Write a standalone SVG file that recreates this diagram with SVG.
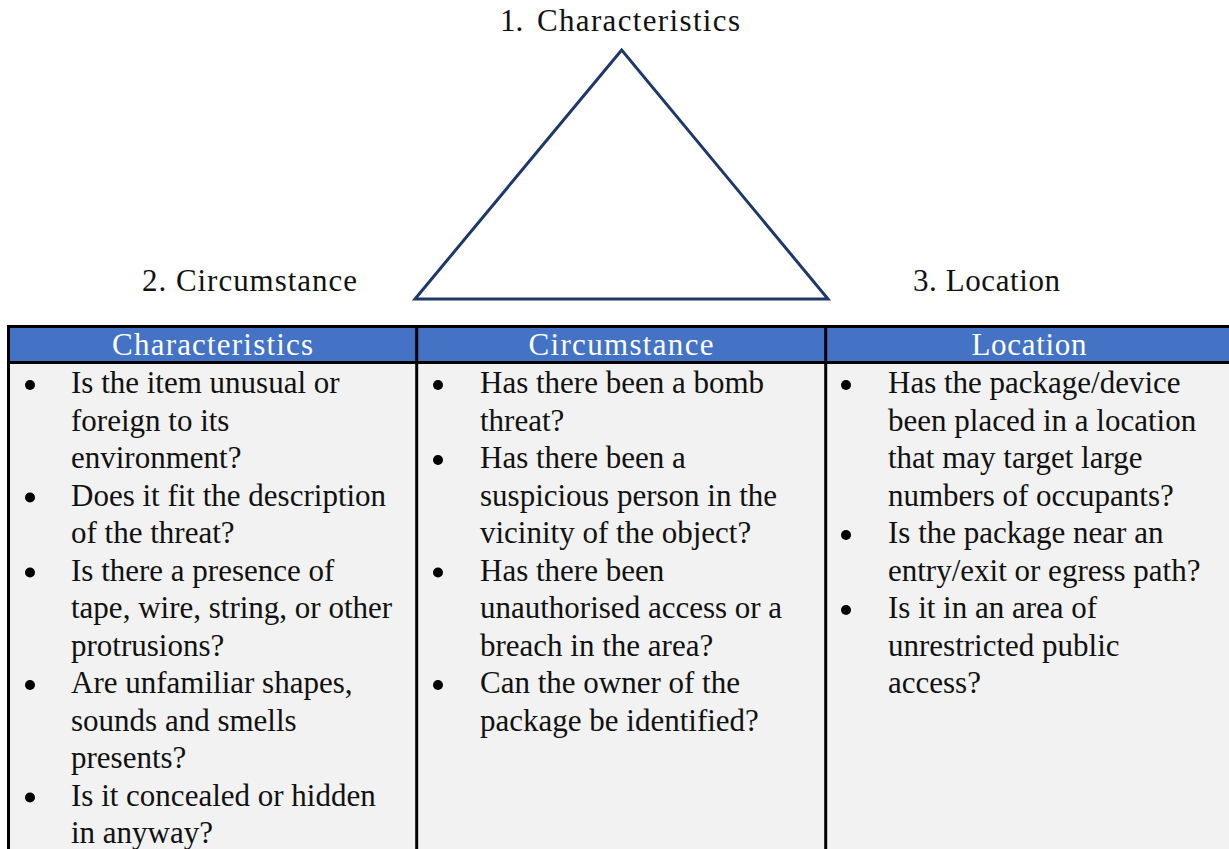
<svg xmlns="http://www.w3.org/2000/svg" width="1229" height="849" viewBox="0 0 1229 849">
<style>
text{font-family:"Liberation Serif","Times New Roman",serif;font-size:31px;fill:#111}
.hd{fill:#ffffff;text-anchor:middle}
.ln{stroke:#000;stroke-width:3;fill:none}
.bl{fill:#000}
</style>
<rect x="0" y="0" width="1229" height="849" fill="#ffffff"/>
<g id="triangle">
<polygon points="621.7,50 415,299 828,299" fill="none" stroke="#1F3864" stroke-width="3" stroke-linejoin="miter"/>
</g>
<g id="label-characteristics">
<text x="500" y="31">1.</text>
<text x="537" y="31" textLength="203" lengthAdjust="spacing">Characteristics</text>
</g>
<g id="label-circumstance">
<text x="142" y="291" textLength="215" lengthAdjust="spacing">2. Circumstance</text>
</g>
<g id="label-location">
<text x="913" y="291" textLength="147" lengthAdjust="spacing">3. Location</text>
</g>
<g id="connectors"></g>
<g id="table">
<rect x="8" y="326" width="1225" height="36" fill="#4472C4"/>
<rect x="8" y="362" width="1225" height="490" fill="#F2F2F2"/>
<line class="ln" x1="7" y1="326.5" x2="1232" y2="326.5"/>
<line class="ln" x1="7" y1="362.5" x2="1232" y2="362.5"/>
<line class="ln" x1="8.5" y1="325" x2="8.5" y2="852"/>
<line class="ln" x1="416.7" y1="325" x2="416.7" y2="852"/>
<line class="ln" x1="825.7" y1="325" x2="825.7" y2="852"/>
<g id="col-characteristics">
<text class="hd" x="212.6" y="355" textLength="201" lengthAdjust="spacing">Characteristics</text>
<circle class="bl" cx="30" cy="385" r="5"/>
<circle class="bl" cx="30" cy="497.5" r="5"/>
<circle class="bl" cx="30" cy="572.5" r="5"/>
<circle class="bl" cx="30" cy="685" r="5"/>
<circle class="bl" cx="30" cy="797.5" r="5"/>
<text x="71" y="393">Is the item unusual or</text>
<text x="71" y="430.5">foreign to its</text>
<text x="71" y="468">environment?</text>
<text x="71" y="505.5">Does it fit the description</text>
<text x="71" y="543">of the threat?</text>
<text x="71" y="580.5">Is there a presence of</text>
<text x="71" y="618">tape, wire, string, or other</text>
<text x="71" y="655.5">protrusions?</text>
<text x="71" y="693">Are unfamiliar shapes,</text>
<text x="71" y="730.5">sounds and smells</text>
<text x="71" y="768">presents?</text>
<text x="71" y="805.5">Is it concealed or hidden</text>
<text x="71" y="843">in anyway?</text>
</g>
<g id="col-circumstance">
<text class="hd" x="621" y="355" textLength="185" lengthAdjust="spacing">Circumstance</text>
<circle class="bl" cx="438" cy="385" r="5"/>
<circle class="bl" cx="438" cy="460" r="5"/>
<circle class="bl" cx="438" cy="572.5" r="5"/>
<circle class="bl" cx="438" cy="685" r="5"/>
<text x="480" y="393">Has there been a bomb</text>
<text x="480" y="430.5">threat?</text>
<text x="480" y="468">Has there been a</text>
<text x="480" y="505.5">suspicious person in the</text>
<text x="480" y="543">vicinity of the object?</text>
<text x="480" y="580.5">Has there been</text>
<text x="480" y="618">unauthorised access or a</text>
<text x="480" y="655.5">breach in the area?</text>
<text x="480" y="693">Can the owner of the</text>
<text x="480" y="730.5">package be identified?</text>
</g>
<g id="col-location">
<text class="hd" x="1029" y="355" textLength="115" lengthAdjust="spacing">Location</text>
<circle class="bl" cx="846" cy="385" r="5"/>
<circle class="bl" cx="846" cy="535" r="5"/>
<circle class="bl" cx="846" cy="610" r="5"/>
<text x="888" y="393">Has the package/device</text>
<text x="888" y="430.5">been placed in a location</text>
<text x="888" y="468">that may target large</text>
<text x="888" y="505.5">numbers of occupants?</text>
<text x="888" y="543">Is the package near an</text>
<text x="888" y="580.5">entry/exit or egress path?</text>
<text x="888" y="618">Is it in an area of</text>
<text x="888" y="655.5">unrestricted public</text>
<text x="888" y="693">access?</text>
</g>
</g>
</svg>
